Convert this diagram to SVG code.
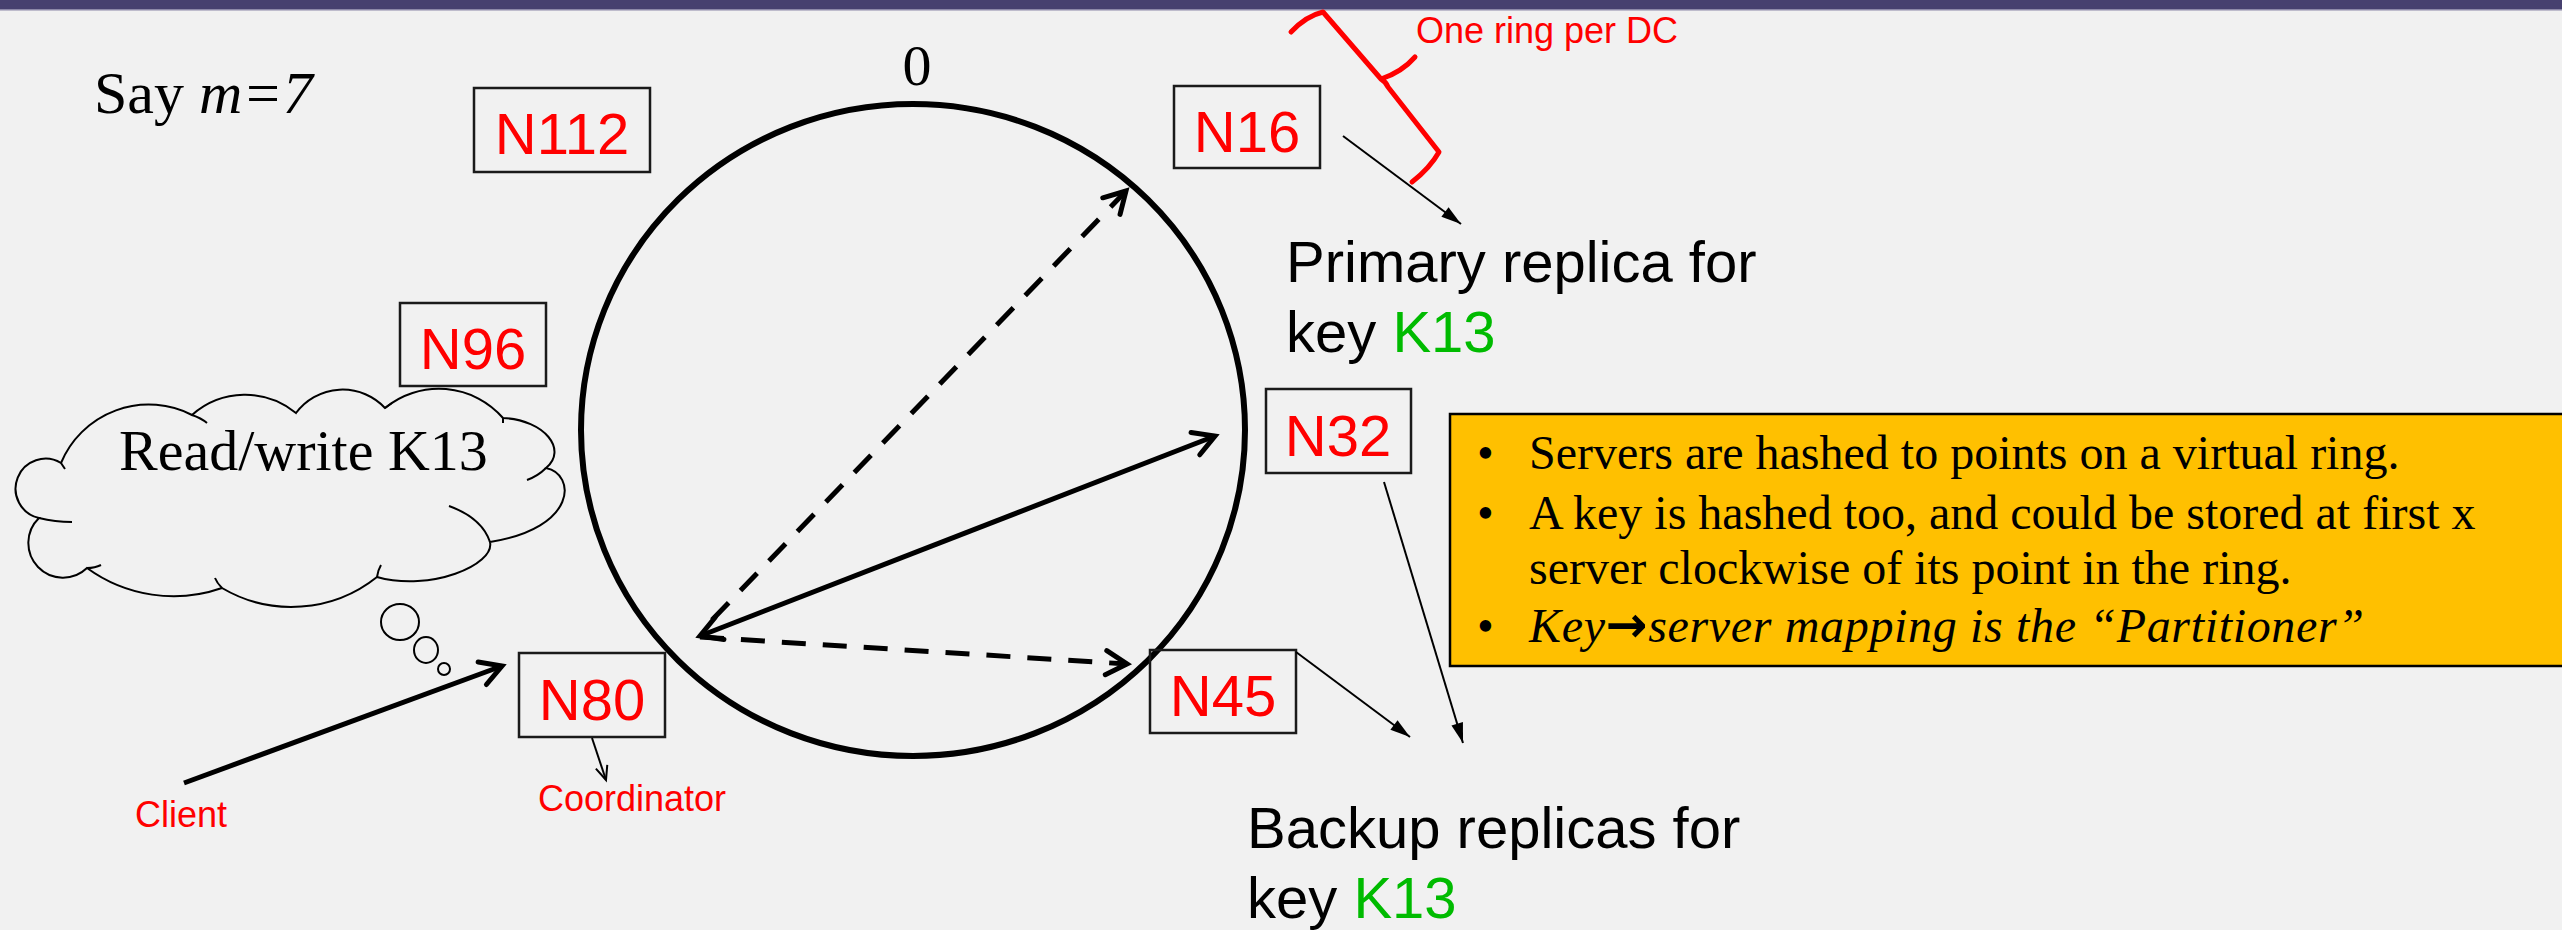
<svg xmlns="http://www.w3.org/2000/svg" width="2562" height="930" viewBox="0 0 2562 930">
<style>
.bg{fill:#F1F1F1}
.node rect{fill:none;stroke:#1a1a1a;stroke-width:2.5}
.nl{font-family:"Liberation Sans",Arial,sans-serif;font-size:58px;fill:#FF0000;text-anchor:middle}
.sans{font-family:"Liberation Sans",Arial,sans-serif;font-size:58px;fill:#000}
.red36{font-family:"Liberation Sans",Arial,sans-serif;font-size:36px;fill:#FF0000}
.serif{font-family:"Liberation Serif","Times New Roman",serif;fill:#000}
.green{fill:#00BB00}
.thick{stroke:#000;stroke-width:5;fill:none}
.dash{stroke:#000;stroke-width:5;fill:none;stroke-dasharray:24 17}
.thin{stroke:#000;stroke-width:2;fill:none}
.cl{fill:none;stroke:#000;stroke-width:2}
</style>
<defs>
<marker id="chev" markerUnits="userSpaceOnUse" markerWidth="40" markerHeight="40" refX="26" refY="14" orient="auto-start-reverse" overflow="visible"><path d="M5,2 L26,14 L5,26" fill="none" stroke="#000" stroke-width="5" stroke-linecap="round"/></marker>
<marker id="tri" markerUnits="userSpaceOnUse" markerWidth="24" markerHeight="14" refX="20" refY="6" orient="auto" overflow="visible"><path d="M0,0 L20,6 L0,12 z" fill="#000"/></marker>
<marker id="chevs" markerUnits="userSpaceOnUse" markerWidth="20" markerHeight="16" refX="15" refY="6" orient="auto" overflow="visible"><path d="M1,0 L15,6 L1,12" fill="none" stroke="#000" stroke-width="2"/></marker>
</defs>
<rect class="bg" x="0" y="0" width="2562" height="930"/>
<rect x="0" y="0" width="2562" height="9" fill="#46406F"/>
<rect x="0" y="9" width="2562" height="1.5" fill="#8C88A8"/>

<text class="serif" x="94" y="113" font-size="60">Say <tspan font-style="italic">m=7</tspan></text>
<text class="serif" x="917" y="85" font-size="58" text-anchor="middle">0</text>

<ellipse id="ring" cx="913" cy="430" rx="332" ry="326" fill="none" stroke="#000" stroke-width="6"/>

<g id="N112" class="node"><rect x="474" y="88" width="176" height="84"/><text class="nl" x="562" y="154">N112</text></g>
<g id="N16" class="node"><rect x="1174" y="86" width="146" height="82"/><text class="nl" x="1247" y="152">N16</text></g>
<g id="N96" class="node"><rect x="400" y="303" width="146" height="83"/><text class="nl" x="473" y="369">N96</text></g>
<g id="N32" class="node"><rect x="1266" y="389" width="145" height="84"/><text class="nl" x="1338" y="456">N32</text></g>
<g id="N80" class="node"><rect x="519" y="653" width="146" height="84"/><text class="nl" x="592" y="720">N80</text></g>
<g id="N45" class="node"><rect x="1150" y="650" width="146" height="83"/><text class="nl" x="1223" y="716">N45</text></g>

<g id="cloud">
<path class="cl" d="M61,463 A95,95 0 0,1 192,415 A80,80 0 0,1 296,413 A58,58 0 0,1 385,408 A85,85 0 0,1 503,418 C545,420 568,450 546,468 C576,474 578,528 490,542 C495,565 430,592 377,577 A137,137 0 0,1 222,588 A147,147 0 0,1 87,568 A34,34 0 0,1 39,518 A30,30 0 1,1 61,463 Z"/>
<path class="cl" d="M61,463 Q63,466 65,469 M192,415 Q201,418 207,423 M385,408 Q389,405 392,403 M503,418 L503,423 M546,468 Q538,476 527,480 M449,506 Q482,518 490,542 M377,577 Q378,570 381,565 M222,588 Q217,583 215,578 M87,568 Q95,568 101,565 M39,518 Q55,522 72,522"/>
<text class="serif" x="119" y="470" font-size="58">Read/write K13</text>
<ellipse class="cl" cx="400" cy="622" rx="19" ry="18"/>
<ellipse class="cl" cx="426" cy="650" rx="12" ry="13"/>
<ellipse class="cl" cx="444" cy="669" rx="6" ry="6"/>
</g>

<g id="connectors">
<line class="thick" x1="184" y1="783" x2="502" y2="666" stroke-width="6" marker-end="url(#chev)"/>
<line class="thin" x1="592" y1="738" x2="606" y2="780" marker-end="url(#chevs)"/>
<line class="thick" x1="700" y1="636" x2="1215" y2="436" marker-start="url(#chev)" marker-end="url(#chev)"/>
<line class="dash" x1="712" y1="620" x2="1126" y2="191" marker-end="url(#chev)"/>
<line class="dash" x1="700" y1="637" x2="1127" y2="664" stroke-width="6.5" stroke-dasharray="25 18" marker-end="url(#chev)"/>
<line class="thin" x1="1343" y1="136" x2="1461" y2="224" marker-end="url(#tri)"/>
<line class="thin" x1="1384" y1="482" x2="1463" y2="743" marker-end="url(#tri)"/>
<line class="thin" x1="1296" y1="652" x2="1410" y2="737" marker-end="url(#tri)"/>
</g>

<g id="brace">
<path d="M1291,32 Q1306,16 1323,12 L1381,79 Q1402,72 1415,57 M1381,79 Q1386,82 1388,87 L1439,152 Q1430,168 1412,182" fill="none" stroke="#FF0000" stroke-width="5" stroke-linecap="round" stroke-linejoin="round"/>
<text class="red36" x="1416" y="43">One ring per DC</text>
</g>

<text class="sans" x="1286" y="282">Primary replica for</text>
<text class="sans" x="1286" y="352">key <tspan class="green">K13</tspan></text>
<text class="sans" x="1247" y="848">Backup replicas for</text>
<text class="sans" x="1247" y="918">key <tspan class="green">K13</tspan></text>

<text class="red36" x="135" y="827">Client</text>
<text class="red36" x="538" y="811" font-size="37">Coordinator</text>

<g id="note">
<rect x="1450" y="414" width="1120" height="252" fill="#FFC000" stroke="#000" stroke-width="2.5"/>
<g class="serif" font-size="48">
<text x="1477" y="469">•</text>
<text x="1529" y="469">Servers are hashed to points on a virtual ring.</text>
<text x="1477" y="529">•</text>
<text x="1529" y="529">A key is hashed too, and could be stored at first x</text>
<text x="1529" y="584">server clockwise of its point in the ring.</text>
<text x="1477" y="642">•</text>
<text x="1529" y="642" font-style="italic" textLength="835" lengthAdjust="spacing">Key<tspan font-family="'DejaVu Sans',sans-serif" font-style="normal" font-weight="bold" font-size="50">→</tspan>server mapping is the “Partitioner”</text>
</g>
</g>
</svg>
